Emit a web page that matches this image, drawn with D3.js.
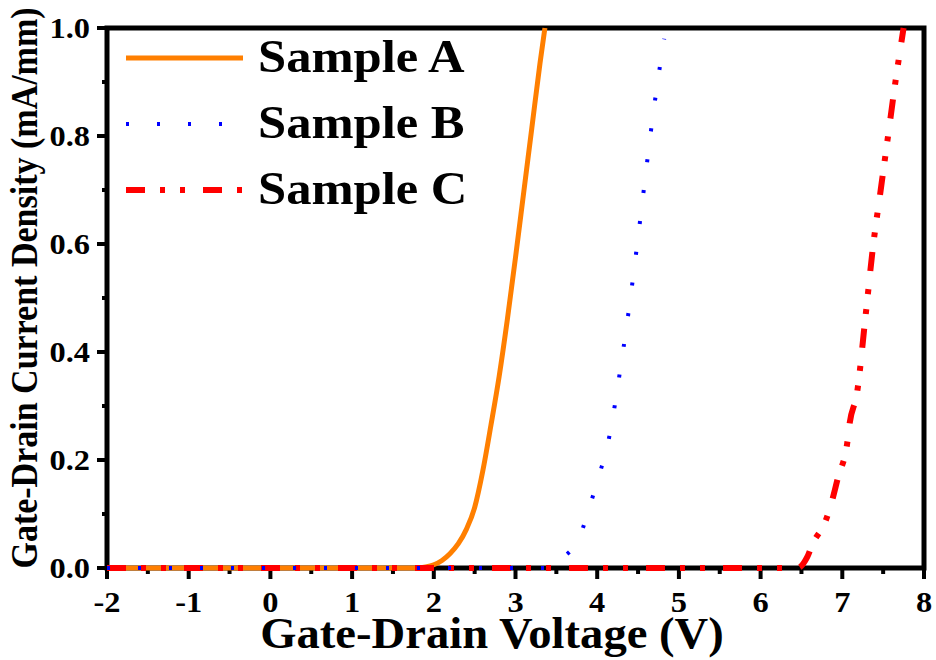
<!DOCTYPE html>
<html>
<head>
<meta charset="utf-8">
<script src="https://cdn.jsdelivr.net/npm/d3@7"></script>
<style>
  body { margin: 0; background: #fff; }
  text { font-family: "Liberation Serif", "Times New Roman", serif; font-weight: bold; fill: #000; }
</style>
</head>
<body>
<div id="chart"></div>
<script>
//* data
var xTicks = [-2, -1, 0, 1, 2, 3, 4, 5, 6, 7, 8]
var yTicks = [0.0, 0.2, 0.4, 0.6, 0.8, 1.0]
var seriesNames = ["Sample A", "Sample B", "Sample C"]

var voltA = [-2, -1, 0, 1, 1.8, 1.9, 2.0, 2.1, 2.2, 2.3, 2.4, 2.5, 2.6, 2.7, 2.8, 2.9, 3.0, 3.1, 3.2, 3.3, 3.36]
var currA = [0, 0, 0, 0, 0, 0.002, 0.006, 0.014, 0.027, 0.045, 0.072, 0.112, 0.18, 0.265, 0.355, 0.46, 0.575, 0.695, 0.815, 0.935, 1.0]

var voltB = [-2, -1, 0, 1, 2, 3, 3.4, 3.54, 3.79, 3.92, 4.03, 4.13, 4.2, 4.26, 4.38, 4.49, 4.57, 4.65, 4.73, 4.82]
var currB = [0, 0, 0, 0, 0, 0, 0, 0.015, 0.06, 0.12, 0.175, 0.23, 0.287, 0.345, 0.47, 0.6, 0.7, 0.8, 0.89, 0.98]

var voltC = [-2, -1, 0, 1, 2, 3, 4, 5, 6, 6.45, 6.57, 6.64, 6.79, 6.87, 6.95, 7.06, 7.09, 7.18, 7.28, 7.38, 7.47, 7.56, 7.65, 7.75]
var currC = [0, 0, 0, 0, 0, 0, 0, 0, 0, 0, 0.02, 0.046, 0.085, 0.122, 0.169, 0.231, 0.268, 0.324, 0.46, 0.6, 0.7, 0.8, 0.9, 1.0]

var W = 936, H = 660
var margin = {left: 107, right: 12, top: 28, bottom: 92}

var svg = d3.select("#chart").append("svg").attr("width", W).attr("height", H)

var x = d3.scaleLinear().domain([-2, 8]).range([margin.left, W - margin.right])
var y = d3.scaleLinear().domain([0, 1]).range([H - margin.bottom, margin.top])

//? minor ticks at half steps
var xMinor = d3.range(-1.5, 8, 1)
var yMinor = d3.range(0.1, 1, 0.2)

// the picture is a bit wider than tall, so texts get stretched sideways
function wide(tx, ty, sx) { return "translate(" + tx + "," + ty + ") scale(" + sx + ",1)" }

// frame
svg.append("rect")
    .attr("x", x(-2)).attr("y", y(1))
    .attr("width", x(8) - x(-2)).attr("height", y(0) - y(1))
    .attr("fill", "none").attr("stroke", "#000").attr("stroke-width", 5)

// x ticks
svg.selectAll(".xmaj").data(xTicks).enter().append("line")
    .attr("x1", d => x(d)).attr("x2", d => x(d))
    .attr("y1", y(0)).attr("y2", y(0) + 11)
    .attr("stroke", "#000").attr("stroke-width", 4)
svg.selectAll(".xmin").data(xMinor).enter().append("line")
    .attr("x1", d => x(d)).attr("x2", d => x(d))
    .attr("y1", y(0)).attr("y2", y(0) + 6)
    .attr("stroke", "#000").attr("stroke-width", 4)
svg.selectAll(".xlab").data(xTicks).enter().append("text")
    .attr("transform", d => wide(x(d), 612, 1.08))
    .attr("text-anchor", "middle").style("font-size", "30px")
    .text(d => d)

// y ticks
svg.selectAll(".ymaj").data(yTicks).enter().append("line")
    .attr("x1", x(-2) - 10).attr("x2", x(-2))
    .attr("y1", d => y(d)).attr("y2", d => y(d))
    .attr("stroke", "#000").attr("stroke-width", 4)
svg.selectAll(".ymin").data(yMinor).enter().append("line")
    .attr("x1", x(-2) - 5).attr("x2", x(-2))
    .attr("y1", d => y(d)).attr("y2", d => y(d))
    .attr("stroke", "#000").attr("stroke-width", 4)
svg.selectAll(".ylab").data(yTicks).enter().append("text")
    .attr("transform", d => wide(90, y(d) + 10, 1.08))
    .attr("text-anchor", "end").style("font-size", "30px")
    .text(d => d.toFixed(1))

// axis titles
svg.append("text")
    .attr("transform", wide(492, 648, 1.06))
    .attr("text-anchor", "middle").style("font-size", "44px")
    .text("Gate-Drain Voltage (V)")
svg.append("text")
    .attr("transform", "translate(37,288) scale(1.1,1) rotate(-90)")
    .attr("text-anchor", "middle").style("font-size", "34px")
    .text("Gate-Drain Current Density (mA/mm)")

//* curves
var line = d3.line().x(d => x(d[0])).y(d => y(d[1])).curve(d3.curveMonotoneX)

var styles = [
    {volt: voltA, curr: currA, color: "#ff7f00", width: 5, dash: null},
    {volt: voltC, curr: currC, color: "#ff0000", width: 6, dash: "19,15,5,15,5,18"},
    {volt: voltB, curr: currB, color: "#0000ff", width: 4, dash: "3,28"}
]
styles.forEach(s => {
    var pts = s.volt.map((v, i) => [v, s.curr[i]])
    svg.append("path").datum(pts)
        .attr("d", line)
        .attr("fill", "none")
        .attr("stroke", s.color)
        .attr("stroke-width", s.width)
        .attr("stroke-dasharray", s.dash)
})

//* legend
var legendStyles = [styles[0], styles[2], styles[1]]
seriesNames.forEach((name, i) => {
    var ly = 58 + i * 66
    var st = legendStyles[i]
    svg.append("line")
        .attr("x1", 126).attr("x2", 243).attr("y1", ly).attr("y2", ly)
        .attr("stroke", st.color).attr("stroke-width", st.width)
        .attr("stroke-dasharray", st.dash)
    svg.append("text")
        .attr("transform", wide(258, ly + 14, 1.1))
        .style("font-size", "46px")
        .text(name)
})
</script>
</body>
</html>
